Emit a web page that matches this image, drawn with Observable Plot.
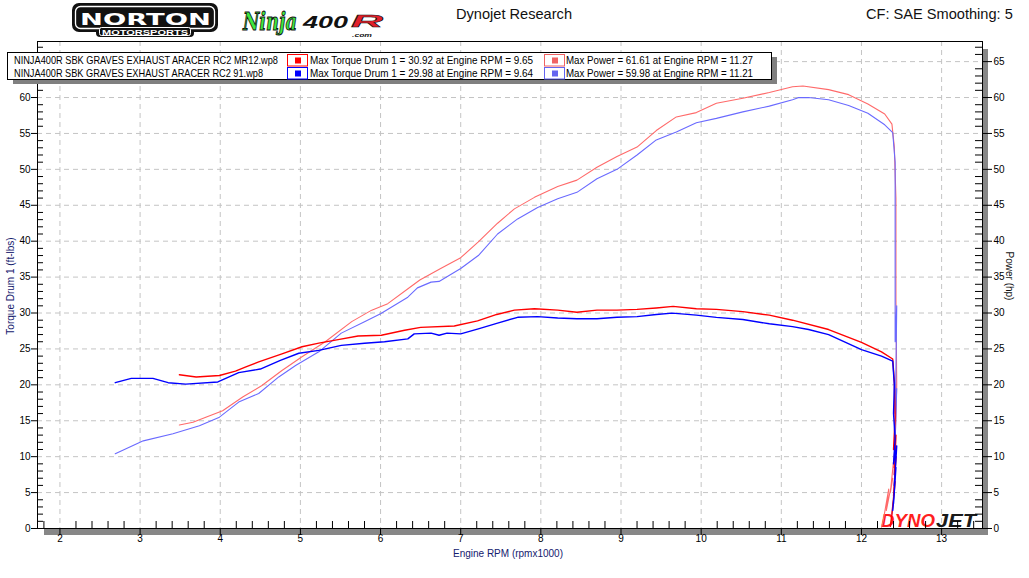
<!DOCTYPE html>
<html>
<head>
<meta charset="utf-8">
<script src="https://cdn.jsdelivr.net/npm/d3@7"></script>
<script src="https://cdn.jsdelivr.net/npm/@observablehq/plot@0.6"></script>
<style>
  body { margin: 0; background: #fff; }
  #wrap { position: relative; width: 1029px; height: 578px; background: #fff; overflow: hidden; font-family: 'Liberation Sans', Arial, sans-serif; }
  .layer { position: absolute; left: 0; top: 0; }
</style>
</head>
<body>
<div id="wrap">
  <svg id="bg" class="layer" width="1029" height="578"></svg>
  <div id="chart" class="layer"></div>
  <svg id="fg" class="layer" width="1029" height="578"></svg>
</div>
<script>
// ---------------- DATA ----------------
const rpmTqMR12 = [3.49,3.70,3.99,4.19,4.32,4.48,4.77,5.02,5.23,5.47,5.72,6.01,6.30,6.50,6.92,7.21,7.45,7.67,7.92,8.21,8.45,8.70,8.95,9.20,9.44,9.65,9.94,10.19,10.52,10.85,11.14,11.59,12.00,12.25,12.39,
  12.41,12.42,12.40,12.43,12.41,12.43,12.40,12.42,12.38,12.36];
const tqMR12 = [21.4,21.1,21.3,21.9,22.5,23.2,24.3,25.3,25.8,26.3,26.8,26.9,27.6,28.0,28.2,28.9,29.8,30.4,30.6,30.4,30.1,30.4,30.4,30.5,30.7,30.92,30.6,30.5,30.2,29.7,29.0,27.7,25.9,24.6,23.6,
  20.5,15.5,11.0,13.0,7.5,10.0,4.5,6.5,2.0,0.3];

const rpmPwrMR12 = [3.49,3.66,3.82,4.03,4.28,4.52,4.77,5.02,5.31,5.64,5.89,6.09,6.38,6.49,6.75,7.00,7.22,7.46,7.67,7.92,8.21,8.45,8.70,8.95,9.20,9.44,9.69,9.94,10.19,10.52,10.85,11.14,11.27,11.59,11.84,12.08,12.29,12.38,
  12.41,12.43,12.43,12.44,12.42,12.40,12.42,12.36,12.39,12.31,12.34,12.27,12.25];
const pwrMR12 = [14.4,14.8,15.5,16.4,18.3,19.9,22.0,23.9,26.0,28.8,30.4,31.3,33.7,34.6,36.2,37.7,39.9,42.5,44.5,46.1,47.6,48.5,50.3,51.8,53.1,55.4,57.3,57.9,59.2,59.9,60.7,61.5,61.61,61.1,60.4,59.1,57.7,56.3,
  53.1,46.0,32.0,20.0,12.0,8.5,11.5,5.0,7.0,2.5,5.5,1.0,0.2];

const rpmTq91 = [2.69,2.89,3.16,3.35,3.57,3.97,4.23,4.50,4.75,4.98,5.23,5.51,5.80,6.05,6.34,6.42,6.63,6.73,6.83,7.00,7.22,7.46,7.71,7.96,8.21,8.45,8.70,8.95,9.20,9.44,9.64,9.94,10.19,10.52,10.85,11.14,11.34,11.59,12.00,12.25,12.39,
  12.41,12.40,12.42,12.40,12.44,12.41,12.43,12.40,12.41,12.39];
const tq91 = [20.3,20.9,20.9,20.3,20.1,20.4,21.7,22.2,23.4,24.4,24.8,25.5,25.8,26.0,26.4,27.1,27.2,26.9,27.2,27.1,27.8,28.6,29.4,29.5,29.3,29.2,29.2,29.4,29.5,29.8,29.98,29.7,29.4,29.1,28.5,28.1,27.7,27.0,24.9,24.0,23.3,
  20.0,16.0,12.5,9.0,11.5,6.0,8.5,3.5,5.0,2.5];

const rpmPwr91 = [2.69,3.04,3.41,3.74,3.99,4.23,4.48,4.73,4.94,5.23,5.51,5.80,6.00,6.34,6.46,6.63,6.73,7.00,7.22,7.46,7.71,7.96,8.21,8.45,8.70,8.95,9.20,9.44,9.69,9.94,10.19,10.52,10.85,11.14,11.21,11.34,11.59,11.84,12.08,12.29,12.39,
  12.42,12.42,12.42,12.44,12.43,12.42,12.44,12.42,12.41,12.43,12.40,12.38];
const pwr91 = [10.4,12.2,13.2,14.3,15.5,17.6,18.8,21.1,22.7,24.6,27.2,28.8,29.9,32.2,33.5,34.3,34.4,36.2,38.0,41.0,43.1,44.7,45.9,46.8,48.7,50.0,52.0,54.1,55.2,56.5,57.1,58.0,58.8,59.7,59.98,60.0,59.7,58.9,57.8,56.2,55.1,
  51.0,38.0,26.0,31.0,22.0,16.0,19.5,12.0,7.5,10.0,4.0,2.0];

const runNames = ["NINJA400R SBK GRAVES EXHAUST ARACER RC2 MR12.wp8", "NINJA400R SBK GRAVES EXHAUST ARACER RC2 91.wp8"];
const torqueLegend = ["Max Torque Drum 1 = 30.92 at Engine RPM = 9.65", "Max Torque Drum 1 = 29.98 at Engine RPM = 9.64"];
const powerLegend = ["Max Power = 61.61 at Engine RPM = 11.27", "Max Power = 59.98 at Engine RPM = 11.21"];

const xMajor = [2,3,4,5,6,7,8,9,10,11,12,13];
const yLeftMajor = [0,5,10,15,20,25,30,35,40,45,50,55,60];
const yRightMajor = [0,5,10,15,20,25,30,35,40,45,50,55,60,65];
const yGrid = [5,10,15,20,25,30,35,40,45,50,55,60,65];
const xMinor = d3.range(18, 136, 2).filter(d => d % 10 !== 0).map(d => d / 10);
const yMinor = d3.range(1, 68).filter(d => d % 5 !== 0);

// ---------------- LAYOUT ----------------
const W = 1029, H = 578, ML = 37, MR = 47, MT = 41, MB = 50;
const FW = W - ML - MR, FH = H - MT - MB;
const colRedTq = "#ff0000", colBlueTq = "#0000ff", colRedPw = "#ff6a6a", colBluePw = "#6a6aff";

const toRows = (xs, ys) => xs.map((x, i) => ({rpm: x, v: ys[i]}));

const chart = Plot.plot({
  width: W, height: H,
  marginLeft: ML, marginRight: MR, marginTop: MT, marginBottom: MB,
  x: {domain: [1.72, 13.51], axis: null},
  y: {domain: [0, 67.8], axis: null},
  style: {background: "transparent", fontFamily: "'Liberation Sans', Arial, sans-serif", fontSize: "10px", color: "black", overflow: "visible"},
  marks: [
    Plot.ruleX(xMajor, {x: d => d, stroke: "#c4c4c4", strokeDasharray: "5,4"}),
    Plot.ruleY(yGrid, {y: d => d, stroke: "#c4c4c4", strokeDasharray: "5,4"}),
    // minor ticks (inside)
    Plot.tickX(xMinor, {x: d => d, insetTop: FH - 7, stroke: "black"}),
    Plot.tickY(yMinor, {y: d => d, insetRight: FW - 6, stroke: "black"}),
    Plot.tickY(yMinor, {y: d => d, insetLeft: FW - 7, stroke: "black"}),
    // major ticks (outside)
    Plot.tickX(xMajor, {x: d => d, insetTop: FH - 7, dy: 7, stroke: "black"}),
    Plot.tickY(yLeftMajor, {y: d => d, insetRight: FW - 6, dx: -6, stroke: "black"}),
    Plot.tickY(yRightMajor, {y: d => d, insetLeft: FW - 10, dx: 10, stroke: "black"}),
    // tick labels
    Plot.text(xMajor, {x: d => d, frameAnchor: "bottom", dy: 13, text: d => String(d), fill: "black"}),
    Plot.text(yLeftMajor, {y: d => d, frameAnchor: "left", dx: -7, textAnchor: "end", text: d => String(d), fill: "black"}),
    Plot.text(yRightMajor, {y: d => d, frameAnchor: "right", dx: 11, textAnchor: "start", text: d => String(d), fill: "black"}),
    // curves
    Plot.line(toRows(rpmPwrMR12, pwrMR12), {x: "rpm", y: "v", stroke: colRedPw, strokeWidth: 1.1}),
    Plot.line(toRows(rpmPwr91, pwr91), {x: "rpm", y: "v", stroke: colBluePw, strokeWidth: 1.1}),
    Plot.line(toRows(rpmTqMR12, tqMR12), {x: "rpm", y: "v", stroke: colRedTq, strokeWidth: 1.4}),
    Plot.line(toRows(rpmTq91, tq91), {x: "rpm", y: "v", stroke: colBlueTq, strokeWidth: 1.4}),
    Plot.frame({stroke: "black"})
  ]
});
document.getElementById("chart").appendChild(chart);

// ---------------- BACKGROUND DECORATION (shadows + Dynojet logo) ----------------
const NS = "http://www.w3.org/2000/svg";
function el(parent, tag, attrs, text) {
  const e = document.createElementNS(NS, tag);
  for (const k in attrs) e.setAttribute(k, attrs[k]);
  if (text != null) e.textContent = text;
  parent.appendChild(e);
  return e;
}
const bg = document.getElementById("bg");
el(bg, "rect", {x: 983, y: 49, width: 5, height: 486, fill: "#878787"});
el(bg, "rect", {x: 44, y: 529, width: 944, height: 6, fill: "#878787"});
el(bg, "text", {x: 881, y: 527, "font-size": 19, "font-weight": "bold", "font-style": "italic", fill: "#ff1f1f", textLength: 54, lengthAdjust: "spacingAndGlyphs", "font-family": "'Liberation Sans', Arial, sans-serif"}, "DYNO");
el(bg, "text", {x: 936, y: 527, "font-size": 19, "font-weight": "bold", "font-style": "italic", fill: "#1a1a1a", textLength: 40, lengthAdjust: "spacingAndGlyphs", "font-family": "'Liberation Sans', Arial, sans-serif"}, "JET");

// ---------------- FOREGROUND (header, logos, legend, axis titles) ----------------
const fg = document.getElementById("fg");
const ff = "'Liberation Sans', Arial, sans-serif";
// Norton logo
el(fg, "rect", {x: 72, y: 3, width: 146, height: 29, rx: 7, fill: "#111"});
el(fg, "rect", {x: 96, y: 24, width: 98, height: 13, rx: 4, fill: "#111"});
el(fg, "rect", {x: 75.5, y: 6.5, width: 139, height: 22, rx: 5, fill: "none", stroke: "#fff", "stroke-width": 1.3});
el(fg, "rect", {x: 99.5, y: 27.5, width: 91, height: 8, rx: 2, fill: "#111", stroke: "#fff", "stroke-width": 1});
el(fg, "text", {x: 80, y: 24.5, "font-size": 15, "font-weight": 900, fill: "#fff", textLength: 131, lengthAdjust: "spacingAndGlyphs", "font-family": "'DejaVu Sans', sans-serif"}, "NORTON");
el(fg, "text", {x: 102, y: 34.6, "font-size": 6.5, "font-weight": "bold", fill: "#fff", textLength: 86, lengthAdjust: "spacingAndGlyphs", "font-family": ff}, "MOTORSPORTS");
// Ninja400R logo
el(fg, "text", {x: 0, y: 0, "font-size": 17, "font-weight": "bold", "font-style": "italic", fill: "#3ee83e", stroke: "#111", "stroke-width": 0.7, textLength: 54, lengthAdjust: "spacingAndGlyphs", transform: "translate(243,30) scale(1,1.4)", "font-family": "'DejaVu Serif', serif"}, "Ninja");
el(fg, "text", {x: 303, y: 28, "font-size": 17, "font-weight": 900, "font-style": "italic", fill: "#111", textLength: 45, lengthAdjust: "spacingAndGlyphs", "font-family": ff}, "400");
el(fg, "text", {x: 351, y: 27, "font-size": 17, "font-weight": 900, "font-style": "italic", fill: "#e3202a", stroke: "#111", "stroke-width": 0.5, textLength: 32, lengthAdjust: "spacingAndGlyphs", "font-family": ff}, "R");
el(fg, "text", {x: 352, y: 36.5, "font-size": 5.5, "font-weight": "bold", "font-style": "italic", fill: "#111", textLength: 20, lengthAdjust: "spacingAndGlyphs", "font-family": ff}, ".com");
// header texts
el(fg, "text", {x: 456, y: 19, "font-size": 14.6, fill: "#111", "font-family": ff}, "Dynojet Research");
el(fg, "text", {x: 866, y: 19, "font-size": 14.6, fill: "#111", "font-family": ff}, "CF: SAE Smoothing: 5");

// legend
el(fg, "rect", {x: 13, y: 57, width: 764, height: 27, fill: "#808080"});
el(fg, "rect", {x: 7.5, y: 52.5, width: 764, height: 27, fill: "#fff", stroke: "#000", "stroke-width": 1});
const rowBase = [63.7, 76.7];
const rowTop = [54.5, 67.5];
const col1Len = [264, 249];
const tqCols = [colRedTq, colBlueTq];
const pwCols = ["#f06262", "#6464f0"];
runNames.forEach((name, i) => {
  el(fg, "text", {x: 14, y: rowBase[i], "font-size": 10.5, fill: "#000", textLength: col1Len[i], lengthAdjust: "spacingAndGlyphs", "font-family": ff}, name);
  el(fg, "rect", {x: 287.5, y: rowTop[i], width: 20, height: 11.5, fill: "#fff", stroke: tqCols[i], "stroke-width": 1});
  el(fg, "rect", {x: 295, y: rowTop[i] + 3, width: 6, height: 6, fill: tqCols[i]});
  el(fg, "text", {x: 310, y: rowBase[i], "font-size": 10.5, fill: "#000", textLength: 223, lengthAdjust: "spacingAndGlyphs", "font-family": ff}, torqueLegend[i]);
  el(fg, "rect", {x: 544.5, y: rowTop[i], width: 20, height: 11.5, fill: "#fff", stroke: pwCols[i], "stroke-width": 1});
  el(fg, "rect", {x: 552, y: rowTop[i] + 3, width: 6, height: 6, fill: pwCols[i]});
  el(fg, "text", {x: 566, y: rowBase[i], "font-size": 10.5, fill: "#000", textLength: 187, lengthAdjust: "spacingAndGlyphs", "font-family": ff}, powerLegend[i]);
});

// axis titles
el(fg, "text", {x: 508, y: 557, "font-size": 10, fill: "#14206e", "text-anchor": "middle", "font-family": ff}, "Engine RPM (rpmx1000)");
el(fg, "text", {x: 0, y: 0, "font-size": 10, fill: "#14206e", "text-anchor": "middle", transform: "translate(14,286) rotate(-90)", "font-family": ff}, "Torque Drum 1 (ft-lbs)");
el(fg, "text", {x: 0, y: 0, "font-size": 10, fill: "#111", "text-anchor": "middle", transform: "translate(1006,276) rotate(90)", "font-family": ff}, "Power (hp)");
</script>
</body>
</html>
